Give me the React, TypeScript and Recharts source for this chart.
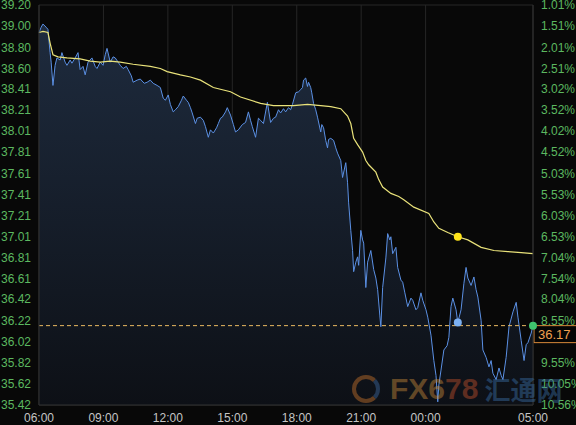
import {
  Area,
  CartesianGrid,
  ComposedChart,
  Line,
  ReferenceDot,
  ReferenceLine,
  XAxis,
  YAxis,
} from 'recharts'

// minutes after 06:00
const priceTimes = [
  0, 6, 11, 20, 25, 31, 34, 39, 45, 50, 59, 64, 73, 78, 87, 92, 101, 109, 115, 123,
  129, 137, 148, 157, 162, 171, 179, 185, 190, 199, 207, 213, 221, 227, 235, 244, 249, 258, 263, 274,
  283, 294, 302, 311, 319, 330, 339, 347, 353, 361, 367, 375, 381, 389, 398, 403, 412, 417, 423, 428,
  437, 442, 451, 459, 465, 473, 479, 487, 496, 501, 507, 512, 521, 526, 535, 543, 549, 557, 568, 577,
  585, 591, 596, 605, 613, 619, 627, 638, 647, 655, 661, 669, 675, 683, 689, 697, 703, 708, 717, 725,
  731, 736, 739, 745, 750, 753, 759, 762, 767, 773, 778, 787, 790, 795, 801, 806, 809, 815, 823, 829,
  834, 843, 848, 857, 862, 865, 871, 876, 879, 885, 890, 893, 899, 904, 907, 913, 918, 927, 935, 941,
  946, 952, 955, 960, 969, 974, 980, 983, 988, 997, 1002, 1011, 1016, 1022, 1030, 1039, 1044, 1053, 1058, 1067,
  1072, 1081, 1086, 1095, 1103, 1109, 1114, 1117, 1123, 1131, 1140, 1145, 1151, 1156, 1165, 1170, 1179, 1187, 1193, 1198,
  1207, 1215, 1221, 1226, 1235, 1240, 1249, 1257, 1263, 1268, 1277, 1285, 1291, 1296, 1305, 1313, 1324, 1333, 1338, 1347,
  1355, 1361, 1366, 1375, 1380,
]
const prices = [
  38.94, 38.99, 39.02, 38.99, 38.97, 38.75, 38.66, 38.44, 38.63, 38.7, 38.68, 38.75, 38.66, 38.63, 38.68, 38.65, 38.7, 38.75, 38.59, 38.62,
  38.54, 38.66, 38.7, 38.62, 38.6, 38.66, 38.63, 38.73, 38.79, 38.66, 38.71, 38.7, 38.66, 38.63, 38.6, 38.62, 38.59, 38.53, 38.47, 38.49,
  38.5, 38.46, 38.47, 38.49, 38.46, 38.44, 38.42, 38.32, 38.3, 38.35, 38.26, 38.19, 38.21, 38.24, 38.3, 38.34, 38.3, 38.28, 38.23, 38.18,
  38.08, 38.13, 38.14, 38.11, 38.05, 37.95, 38.02, 37.99, 38.04, 38.08, 38.13, 38.14, 38.19, 38.23, 38.16, 38.07, 38.0, 38.02, 38.07, 38.09,
  38.19, 38.11, 38.05, 37.95, 38.13, 38.11, 38.08, 38.28, 38.09, 38.13, 38.14, 38.21, 38.18, 38.22, 38.19, 38.23, 38.21, 38.26, 38.37, 38.38,
  38.4, 38.42, 38.49, 38.51, 38.43, 38.47, 38.42, 38.37, 38.27, 38.21, 38.14, 38.0, 38.07, 38.04, 37.92, 37.85, 37.93, 37.94, 37.92, 37.85,
  37.8, 37.73, 37.57, 37.71, 37.52, 37.33, 37.07, 36.88, 36.68, 36.77, 36.82, 36.74, 37.07, 36.98, 36.95, 36.53, 36.77, 36.88, 36.7, 36.62,
  36.51, 36.27, 36.16, 36.53, 36.81, 37.04, 36.98, 37.01, 36.85, 36.91, 36.72, 36.6, 36.58, 36.48, 36.35, 36.43, 36.41, 36.32, 36.34, 36.48,
  36.41, 36.32, 36.25, 36.08, 35.84, 35.7, 35.45, 35.61, 35.75, 35.94, 35.98, 36.06, 36.35, 36.43, 36.32, 36.2, 36.32, 36.57, 36.72, 36.62,
  36.55, 36.63, 36.51, 36.44, 36.22, 35.94, 35.87, 35.78, 35.84, 35.72, 35.66, 35.77, 35.7, 35.66, 35.87, 36.16, 36.3, 36.39, 36.25, 36.03,
  35.84, 35.99, 36.01, 36.1, 36.17,
]

const avgTimes = [
  0, 11, 25, 31, 39, 53, 78, 115, 143, 171, 199, 227, 263, 311, 339, 358, 395, 423, 451, 487,
  535, 563, 619, 655, 711, 750, 787, 815, 843, 862, 871, 879, 890, 904, 913, 921, 941, 949, 960, 983,
  1005, 1019, 1047, 1089, 1103, 1117, 1142, 1170, 1198, 1235, 1271, 1310, 1347, 1380,
]
const avgPrices = [
  38.94, 38.95, 38.94, 38.84, 38.73, 38.71, 38.7, 38.69, 38.67, 38.66, 38.67, 38.66, 38.64, 38.62, 38.6, 38.57, 38.54, 38.52, 38.49, 38.42,
  38.38, 38.33, 38.27, 38.25, 38.25, 38.26, 38.25, 38.24, 38.22, 38.15, 38.08, 37.94, 37.88, 37.81, 37.73, 37.69, 37.62, 37.55, 37.48, 37.42,
  37.39, 37.36, 37.29, 37.23, 37.15, 37.09, 37.05, 37.01, 36.98, 36.91, 36.88, 36.87, 36.86, 36.85,
]

const priceTicks = [
  35.42, 35.62, 35.82, 36.02, 36.22, 36.42, 36.61, 36.81, 37.01, 37.21,
  37.41, 37.61, 37.81, 38.01, 38.21, 38.41, 38.6, 38.8, 39.0, 39.2,
]
const pctLabels = [
  '10.56%', '10.05%', '9.55%', '9.05%', '8.55%', '8.04%', '7.54%', '7.04%', '6.53%', '6.03%',
  '5.53%', '5.03%', '4.52%', '4.02%', '3.52%', '3.02%', '2.51%', '2.01%', '1.51%', '1.01%',
]
const timeTicks = [0, 180, 360, 540, 720, 900, 1080, 1380]
const timeLabels = ['06:00', '09:00', '12:00', '15:00', '18:00', '21:00', '00:00', '05:00']

const lastPrice = 36.17
const cursorTime = 1170
const cursorPrice = 36.2
const cursorAvg = 37.01

const rows = new Map<number, { t: number; price?: number; avg?: number }>()
priceTimes.forEach((t, i) => rows.set(t, { ...(rows.get(t) || { t }), price: prices[i] }))
avgTimes.forEach((t, i) => rows.set(t, { ...(rows.get(t) || { t }), avg: avgPrices[i] }))
const data = [...rows.values()].sort((a, b) => a.t - b.t)

const tickFont = { fontFamily: 'Arial, "Liberation Sans", sans-serif', fontSize: 12 }

const PriceTag = ({ viewBox }: any) => {
  const x = viewBox.x + viewBox.width + 1
  const y = viewBox.y
  return (
    <g>
      <rect x={x} y={y} width={44} height={17} fill="#050505" stroke="#d98a3a" />
      <text x={x + 4} y={y + 13} fill="#f0a050" style={{ ...tickFont, fontSize: 13 }}>
        {lastPrice.toFixed(2)}
      </text>
    </g>
  )
}

export default function App() {
  return (
    <div style={{ position: 'absolute', left: 0, top: 0, width: 576, height: 425, background: '#080808' }}>
      <ComposedChart width={576} height={425} data={data} margin={{ top: 5, right: 0, bottom: 0, left: 0 }}>
        <defs>
          <linearGradient id="areaFill" x1="0" y1="0" x2="0" y2="1">
            <stop offset="0%" stopColor="#1e2b3e" />
            <stop offset="100%" stopColor="#0d1016" />
          </linearGradient>
        </defs>
        <CartesianGrid stroke="#262626" />
        <XAxis
          dataKey="t"
          type="number"
          domain={[0, 1380]}
          ticks={timeTicks}
          tickFormatter={(v: number) => timeLabels[timeTicks.indexOf(v)]}
          tick={{ ...tickFont, fill: '#c4c4c4' }}
          tickLine={false}
          axisLine={{ stroke: '#333' }}
          height={20}
          tickMargin={2}
          interval={0}
        />
        <YAxis
          yAxisId="left"
          domain={[35.42, 39.2]}
          ticks={priceTicks}
          tickFormatter={(v: number) => v.toFixed(2)}
          tick={{ ...tickFont, fill: '#5cb860' }}
          tickLine={false}
          axisLine={{ stroke: '#333' }}
          width={39}
          tickMargin={2}
          interval={0}
          allowDataOverflow
        />
        <YAxis
          yAxisId="right"
          orientation="right"
          domain={[35.42, 39.2]}
          ticks={priceTicks.filter((_, i) => i !== 3)}
          tickFormatter={(v: number) => pctLabels[priceTicks.indexOf(v)]}
          tick={{ ...tickFont, fill: '#5cb860', textAnchor: 'start' }}
          tickLine={false}
          axisLine={{ stroke: '#333' }}
          width={43}
          tickMargin={2}
          interval={0}
          allowDataOverflow
        />
        <Area
          yAxisId="left"
          type="linear"
          dataKey="price"
          stroke="#5b90e4"
          strokeWidth={1}
          fill="url(#areaFill)"
          fillOpacity={1}
          connectNulls
          dot={false}
          activeDot={false}
          isAnimationActive={false}
        />
        <Line
          yAxisId="right"
          type="linear"
          dataKey="avg"
          stroke="#e9e27a"
          strokeWidth={1.2}
          connectNulls
          dot={false}
          activeDot={false}
          isAnimationActive={false}
        />
        <ReferenceLine
          yAxisId="left"
          y={lastPrice}
          stroke="#e8b860"
          strokeDasharray="4 3"
          label={<PriceTag />}
        />
        <ReferenceDot yAxisId="left" x={cursorTime} y={cursorPrice} r={4} fill="#7cb0f2" stroke="none" />
        <ReferenceDot yAxisId="right" x={cursorTime} y={cursorAvg} r={4} fill="#ffe41a" stroke="none" />
        <ReferenceDot yAxisId="left" x={1380} y={lastPrice} r={4} fill="#3fc46e" stroke="none" />
      </ComposedChart>
      <div
        style={{
          position: 'absolute',
          left: 352,
          top: 374,
          width: 220,
          display: 'flex',
          alignItems: 'center',
          whiteSpace: 'nowrap',
          pointerEvents: 'none',
          opacity: 0.45,
        }}
      >
        <div
          style={{
            flex: 'none',
            width: 20,
            height: 20,
            borderRadius: '50%',
            border: '4px solid #c8742c',
            borderRightColor: '#3f6aa0',
            marginRight: 10,
          }}
        />
        <span style={{ fontFamily: 'Arial, "Liberation Sans", sans-serif', fontWeight: 'bold', fontSize: 30, lineHeight: '30px' }}>
          <span style={{ color: '#c88a3a' }}>FX6</span>
          <span style={{ color: '#c0502c' }}>78</span>
        </span>
        <span
          style={{
            fontFamily: '"Noto Sans CJK SC", sans-serif',
            fontWeight: 'bold',
            fontSize: 26,
            lineHeight: '30px',
            color: '#3a6ea6',
            marginLeft: 6,
          }}
        >
          汇通网
        </span>
      </div>
    </div>
  )
}
